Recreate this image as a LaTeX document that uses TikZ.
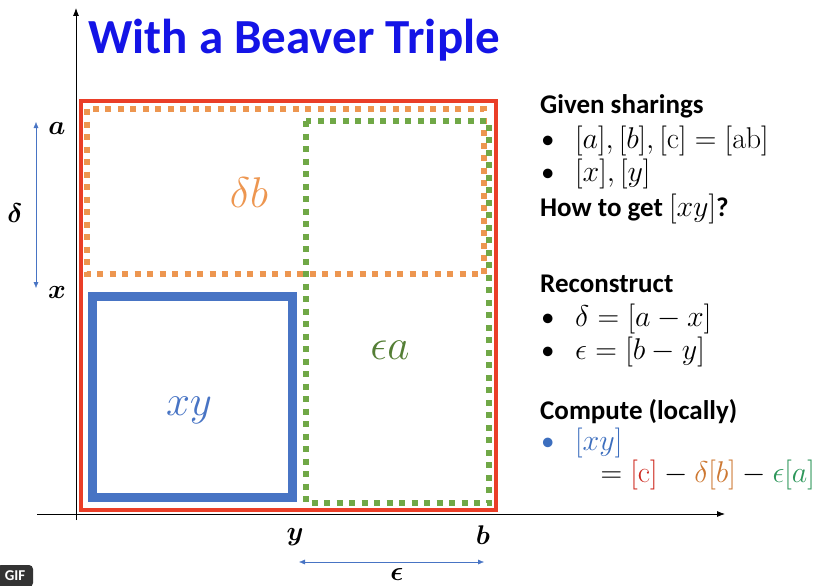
\documentclass[tikz,border=0pt]{standalone}
\usepackage{fix-cm}
\usepackage{amsmath, amssymb}
\usepackage[no-math]{fontspec}
\setmainfont{Carlito}
\usepackage{tikz}
\usetikzlibrary{calc, positioning, arrows.meta}
\definecolor{boxRed}{RGB}{234, 62, 40}
\definecolor{boxOrange}{RGB}{237, 150, 80}
\definecolor{boxGreen}{RGB}{112, 168, 70}
\definecolor{boxBlue}{RGB}{72, 116, 196}
\definecolor{titleBlue}{RGB}{20, 20, 230}
\definecolor{termRed}{RGB}{205, 40, 30}
\definecolor{termOrange}{RGB}{205, 120, 50}
\definecolor{termGreen}{RGB}{45, 150, 90}
\definecolor{termBlue}{RGB}{60, 110, 190}

\tikzset{
  sqdots/.style={line width=5.5pt, dash pattern=on 6pt off 6.5pt},
  axislbl/.style={font=\fontsize{27}{27}\selectfont},
  rtext/.style={anchor=base west, inner sep=0pt, font=\fontsize{27}{30}\selectfont},
  rmath/.style={anchor=base west, inner sep=0pt, font=\fontsize{30}{32}\selectfont},
  rhead/.style={rtext, font=\fontsize{27}{30}\selectfont\bfseries},
  areatxt/.style={font=\fontsize{43}{43}\selectfont},
  spanarrow/.style={{Latex[length=6pt,width=5pt]}-{Latex[length=6pt,width=5pt]}, boxBlue, thin},
}

\begin{document}
\begin{tikzpicture}[x=1pt, y=-1pt]
  \useasboundingbox (0,0) rectangle (819,586);

  % Title
  \node[anchor=base west, inner sep=0pt, text=titleBlue,
        font=\fontsize{49}{49}\selectfont\bfseries] (title) at (88,54) {With a Beaver Triple};

  % Axes
  \coordinate (ybot) at (76,520);
  \coordinate (ytop) at (76,8);
  \coordinate (xleft) at (37,514);
  \coordinate (xright) at (725,514);
  \draw[-{Latex[length=8pt,width=6pt]}, thick] (ybot) -- (ytop);
  \draw[-{Latex[length=8pt,width=6pt]}, thick] (xleft) -- (xright);

  % Rectangles: [c]=[ab], delta*b, epsilon*a, xy
  \draw[boxRed, line width=4pt] (81,101) rectangle (496,510);
  \draw[boxOrange, sqdots] (87,109) rectangle (484,274);
  \draw[boxGreen, sqdots] (306,121) rectangle (489,503);
  \draw[boxBlue, line width=9pt] (92,296) rectangle (292,497);

  % Area labels
  \node[areatxt, text=boxOrange] (db) at (249,193) {$\delta b$};
  \node[areatxt, text=boxGreen!75!black] (ea) at (390,350) {$\epsilon a$};
  \node[areatxt, text=boxBlue] (xy) at (189,410) {$xy$};

  % Side lengths
  \node[axislbl] (la) at (57,128) {$\boldsymbol{a}$};
  \node[axislbl] (lx) at (57,292) {$\boldsymbol{x}$};
  \node[axislbl] (ly) at (295,537) {$\boldsymbol{y}$};
  \node[axislbl] (lb) at (483,535) {$\boldsymbol{b}$};
  \coordinate (dtop) at (36,122);
  \coordinate (dbot) at (36,288);
  \coordinate (eleft) at (299,562);
  \coordinate (eright) at (484,562);
  \draw[spanarrow] (dtop) -- (dbot);
  \draw[spanarrow] (eleft) -- (eright);
  \node[axislbl] (ld) at (15,213) {$\boldsymbol{\delta}$};
  \node[axislbl] (le) at (397,574) {$\boldsymbol{\epsilon}$};

  % Right-hand text
  \node[rhead] (given) at (540,113) {Given sharings};
  \node[rtext] (bul1) at (541,148) {\textbullet};
  \node[rmath] (abc) at (575,148) {$[a], [b], [\mathrm{c}] = [\mathrm{ab}]$};
  \node[rtext] (bul2) at (541,181) {\textbullet};
  \node[rmath] (xandy) at (575,181) {$[x], [y]$};
  \node[rhead] (howto) at (540,216) {How to get {\fontsize{30}{32}\selectfont$[xy]$}?};

  \node[rhead] (recon) at (540,292) {Reconstruct};
  \node[rtext] (bul3) at (541,326) {\textbullet};
  \node[rmath] (delta) at (575,326) {$\delta = [a - x]$};
  \node[rtext] (bul4) at (541,359) {\textbullet};
  \node[rmath] (eps) at (575,359) {$\epsilon = [b - y]$};

  \node[rhead] (comp) at (540,419) {Compute (locally)};
  \node[rtext, text=termBlue] (bul5) at (541,450) {\textbullet};
  \node[rmath, text=termBlue] (xyshare) at (575,450) {$[xy]$};
  \node[rmath, anchor=base east] (result) at (815,482)
    {$= \textcolor{termRed}{[\mathrm{c}]} - \textcolor{termOrange}{\delta[b]} - \textcolor{termGreen}{\epsilon[a]}$};

  % Player badge
  \node[fill=black!80, rounded corners=4pt, text=white, inner sep=0pt,
        minimum width=36pt, minimum height=22pt,
        font=\fontsize{15}{15}\selectfont\bfseries] (gif) at (15,576) {GIF};
\end{tikzpicture}
\end{document}
